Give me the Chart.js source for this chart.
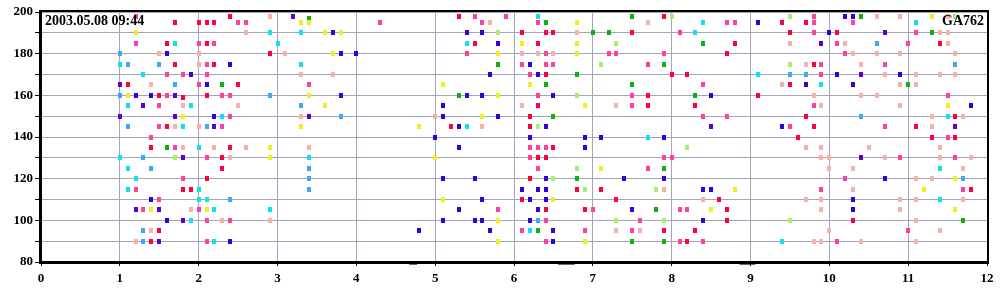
<!DOCTYPE html>
<html lang="en">
<head>
  <meta charset="UTF-8">
  <title>GA762 scatter</title>
  <script src="https://cdn.jsdelivr.net/npm/chart.js"></script>
  <style>
    html, body { margin: 0; padding: 0; background: #fff; }
  </style>
</head>
<body>
  <canvas id="myChart" width="1000" height="300"></canvas>

  <script>
    // points per colour group, [x, y]
    const redPts = [
      [1.7,195],[2.0,195],[2.1,195],[2.2,195],[2.4,198],[1.6,185],[2.1,185],[1.7,175],[2.2,175],[1.1,165],[1.5,160],[1.8,159],[2.1,160],[1.6,145],
      [1.4,135],[2.4,135],[2.3,130],[2.3,125],[2.1,120],[1.8,115],[1.9,115],[1.5,95],[1.4,90],
      [2.9,180],[2.5,165],
      [5.3,198],[6.1,190],[6.4,190],[6.5,190],[5.5,185],[6.3,185],[6.4,170],[6.3,155],[6.2,150],[5.2,145],[6.2,145],
      [7.9,198],[7.5,190],[9.5,190],[9.4,195],[8.8,185],[8.7,180],[8.0,170],[8.2,170],[9.5,165],[7.7,160],[9.1,160],[7.7,155],[8.3,155],
      [9.7,195],[10.1,190],[11.4,185],[9.8,175],[9.7,150],[11.6,150],[9.8,145],[11.1,145],
      [6.5,135],[6.3,130],[6.4,130],[6.2,120],[6.8,115],[7.1,115],[6.1,110],[7.3,110],[6.4,105],[6.9,105],
      [8.6,110],[8.7,105],[8.7,100],[7.9,95],[8.3,95],[8.2,90],
      [9.6,140],[10.3,100],[11.3,140],[11.6,140],[11.8,115]
    ];
    const pinkPts = [
      [1.2,198],[1.2,185],[2.0,185],[2.2,185],[2.1,175],[1.6,170],[1.8,170],[2.1,170],[2.0,165],[1.6,160],[2.3,160],[2.4,160],[1.5,155],[2.4,150],[1.5,145],[2.3,145],
      [1.4,140],[1.7,135],[2.1,130],[1.8,120],[1.2,115],[1.5,110],[1.3,105],[2.0,105],[2.1,100],[2.4,100],[2.1,90],
      [2.5,195],[2.6,195],[4.3,195],[3.4,165],
      [5.5,198],[5.6,195],[5.9,198],[6.3,195],[5.4,180],[6.4,180],[7.2,180],[6.1,175],[6.4,175],[6.5,175],[6.2,170],[6.3,160],
      [8.7,195],[8.8,195],[8.1,190],[7.3,180],[7.9,180],[7.7,175],[8.4,165],[7.5,160],[7.5,155],[8.4,150],[8.7,150],[9.5,145],
      [9.8,198],[9.8,195],[10.3,195],[9.8,190],[11.1,190],[10.1,185],[11.0,185],[10.2,180],[9.9,175],[10.7,175],[9.9,170],[11.5,160],[9.8,155],[10.7,145],
      [6.2,135],[6.3,135],[6.4,135],[6.2,130],[7.9,130],[8.0,130],[6.3,125],[7.7,125],[6.4,100],[7.6,100],[7.0,105],[8.1,105],[8.2,105],
      [5.8,105],[6.1,95],[6.9,95],[7.5,95],[6.4,90],[8.1,90],[8.4,90],
      [11.5,140],[10.9,130],[11.6,130],[10.2,120],[9.9,115],[11.7,115],[10.1,90],[11.0,95]
    ];
    const lightPinkPts = [
      [1.5,180],[2.0,180],[2.0,175],[1.4,165],[1.8,155],[1.7,145],[2.0,145],
      [1.8,135],[2.2,135],[2.4,130],[1.9,105],[2.3,100],[1.4,95],[1.2,90],
      [2.9,198],[2.6,190],[3.1,180],[3.3,170],[3.7,170],[2.5,155],[3.3,150],
      [5.7,195],[6.8,190],[6.1,180],[6.3,180],[6.5,180],[6.1,155],[5.0,150],[5.6,145],
      [7.7,195],[9.5,185],[9.4,165],[7.3,155],
      [10.6,198],[10.9,198],[11.5,198],[11.4,190],[11.5,190],[10.2,185],[11.5,185],[10.3,180],[10.6,180],[10.9,180],[11.6,180],
      [9.7,175],[10.4,175],[10.7,170],[11.1,170],[11.4,170],[11.6,170],[10.9,165],[11.1,165],[9.8,160],[10.4,160],[10.6,160],
      [9.9,155],[10.9,155],[11.3,150],[11.7,150],[11.3,145],
      [7.9,115],[8.4,110],[7.3,95],[7.6,95],
      [2.6,135],[3.4,135],[2.9,100],[9.7,135],[9.9,135],[10.5,135],[11.4,135],[9.9,130],[10.0,130],[10.7,130],[11.4,130],[11.8,130],
      [10.0,125],[10.3,125],[11.7,125],[11.1,120],[11.3,120],[10.3,115],
      [9.7,110],[9.9,110],[10.9,110],[11.1,110],[11.7,110],[9.9,105],[10.9,105],[11.1,100],[10.0,95],[11.4,95],
      [9.8,90],[9.9,90],[10.4,90],[11.1,90]
    ];
    const bluePts = [
      [1.6,180],[2.4,175],[1.9,170],[2.1,165],[1.2,160],[1.4,160],[2.2,150],
      [1.4,110],[1.6,100],[2.4,90],
      [3.7,190],[3.8,180],[4.0,180],[3.8,160],
      [5.4,190],[5.6,190],[5.8,185],[6.2,175],[5.7,170],[6.3,170],[5.4,160],[5.6,160],[6.5,160],[5.1,155],[5.1,150],[5.8,150],[5.3,145],[6.4,145],
      [9.1,195],[8.5,160],[9.4,145],
      [10.2,198],[10.3,198],[10.0,190],[10.1,170],[10.9,170],[9.7,165],[10.3,165],[11.8,155],
      [6.2,140],[6.9,140],[7.1,140],[7.9,140],[6.9,135],[6.4,120],[7.4,120],[7.9,120],[6.1,115],[6.3,115],[6.4,115],[6.2,110],[6.4,110],
      [5.6,110],[5.3,105],[6.3,105],[7.5,105],[5.1,100],[5.5,100],[5.6,100],[6.2,100],[8.4,100],[4.8,95],[5.7,95],[6.5,95],[6.5,90],
      [5.0,140],[5.3,135],[5.1,120],[5.5,120],[10.3,110],[10.3,105],[10.7,120],
      [8.4,115],[8.5,115]
    ];
    const purplePts = [
      [1.0,165],[1.7,160],[1.3,155],[1.0,150],[1.7,150],[2.2,145],
      [1.8,130],[1.2,105],[1.5,105],[1.8,100],[1.5,90],
      [3.2,198],[3.4,150],[8.5,145],
      [10.7,190],[9.9,185],[10.4,170],[11.6,145],
      [10.4,130]
    ];
    const cyanPts = [
      [1.7,185],[1.0,175],[1.3,170],[1.1,155],[1.9,155],[2.3,150],[1.8,145],
      [2.0,135],[1.0,130],[1.1,125],[1.2,120],[1.1,115],[2.0,115],[2.0,110],[2.1,110],[2.2,105],[1.9,100],[2.2,90],
      [2.9,190],[3.3,190],[3.0,185],[3.3,175],
      [6.3,198],[5.4,185],[5.4,145],
      [8.4,195],[8.3,190],[9.1,170],
      [11.1,195],[9.9,165],[11.5,150],
      [7.7,140],[6.2,95],[9.4,90],
      [3.4,130],[2.9,105],[11.4,125],[11.4,110]
    ];
    const lightBluePts = [
      [1.0,180],[1.1,175],[1.5,175],[1.7,165],[1.0,160],[1.1,145],[2.1,145],
      [1.3,130],[1.4,125],[2.4,110],[1.3,95],[1.3,90],
      [2.9,160],[3.3,155],[3.8,150],
      [9.5,170],[10.6,185],[11.6,175],[9.7,170],[10.4,150],
      [6.3,100],
      [3.4,125],[3.4,120],[3.4,115],[11.7,120]
    ];
    const yellowPts = [
      [1.2,190],[1.1,160],[1.8,150],[1.4,105],[2.1,105],
      [3.3,195],[3.4,195],[3.6,190],[3.8,190],[3.7,180],[3.4,160],[3.6,155],[3.3,145],[4.8,145],
      [6.8,195],[6.1,185],[6.8,185],[5.8,180],[6.8,180],[5.1,165],[6.2,165],[5.8,160],[6.9,155],[5.6,150],
      [11.3,198],[11.5,155],
      [7.1,125],[6.5,110],[5.1,110],[5.8,100],[6.9,90],[5.8,90],[8.5,105],
      [2.9,135],[2.9,130],[5.0,130],[11.6,120],[11.2,115],[11.6,105],
      [8.8,115]
    ];
    const lightGreenPts = [
      [1.7,130],[5.8,190],[7.1,175],[6.8,160],[6.3,145],
      [8.0,198],[9.5,198],[7.3,185],[9.5,175],[11.6,198],
      [8.2,135],[6.8,125],[6.5,120],[6.9,115],[7.8,115],
      [7.3,100],[7.9,100],[9.5,100]
    ];
    const greenPts = [
      [2.3,165],[1.6,135],[3.4,197],
      [6.4,195],[7.0,190],[7.2,190],[5.8,175],[6.8,170],[6.4,165],[5.3,160],[6.5,150],
      [7.5,198],[8.4,185],[7.9,175],[7.5,165],[8.3,160],
      [10.4,198],[11.3,190],[11.0,165],
      [7.9,125],[6.8,120],[7.8,105],[6.3,95],[7.5,90],[7.9,90],
      [11.7,100]
    ];
    // short dashes under the x axis
    const dashX = [4.67, 4.77, null, 6.56, 6.77, null, 8.86, 9.06];
    const dashY = 79;

    const xTicksMin = 0, xTicksMax = 12;
    const yTicksMin = 80, yTicksMax = 200;

    const groups = [
      [redPts, '#ff0040'],
      [pinkPts, '#ff40a0'],
      [lightPinkPts, '#f8b0a8'],
      [bluePts, '#3000e0'],
      [purplePts, '#6000d0'],
      [cyanPts, '#10e0f0'],
      [lightBluePts, '#40a8f8'],
      [yellowPts, '#f0f020'],
      [lightGreenPts, '#a8f070'],
      [greenPts, '#10b010']
    ];

    function markImg(color) {
      const c = document.createElement('canvas');
      c.width = 4; c.height = 5;
      const g = c.getContext('2d');
      g.fillStyle = color;
      g.fillRect(0, 0, 4, 5);
      return c;
    }

    const datasets = groups.map(([pts, col]) => ({
      type: 'scatter',
      data: pts.map(p => ({ x: p[0], y: p[1] })),
      pointStyle: markImg(col),
      pointRadius: 3,
      backgroundColor: col,
      borderColor: col
    }));

    datasets.push({
      type: 'line',
      data: dashX.map(x => x === null ? { x: null, y: null } : { x: x, y: dashY }),
      borderColor: '#000',
      borderWidth: 1,
      pointRadius: 0,
      spanGaps: false,
      clip: false
    });

    const frameAndText = {
      id: 'frameAndText',
      afterDraw(chart) {
        const { ctx, chartArea: a } = chart;
        ctx.save();
        ctx.strokeStyle = '#000';
        ctx.lineWidth = 2;
        ctx.strokeRect(a.left - 1, a.top - 1, a.right - a.left + 2, a.bottom - a.top + 2);
        ctx.fillStyle = '#000';
        ctx.font = 'bold 14px "Liberation Serif", "Times New Roman", serif';
        ctx.textBaseline = 'alphabetic';
        ctx.textAlign = 'left';
        ctx.fillText('2003.05.08 09:44', 45, 25);
        ctx.textAlign = 'right';
        ctx.fillText('GA762', 984, 25);
        ctx.restore();
      }
    };

    const tickFont = { family: '"Liberation Serif", "Times New Roman", serif', size: 13, weight: 'bold' };

    new Chart(document.getElementById('myChart'), {
      type: 'scatter',
      data: { datasets },
      plugins: [frameAndText],
      options: {
        responsive: false,
        animation: false,
        devicePixelRatio: 1,
        layout: { padding: { top: 12, right: 13, left: 0, bottom: 0 } },
        plugins: { legend: { display: false }, tooltip: { enabled: false } },
        scales: {
          x: {
            type: 'linear',
            min: xTicksMin,
            max: xTicksMax,
            ticks: { stepSize: 1, color: '#000', font: tickFont, padding: 5, maxRotation: 0 },
            grid: { color: '#a3a6b8', tickColor: '#000', tickLength: 4 },
            border: { color: '#000', width: 2 },
            afterFit: s => { s.height = 38; }
          },
          y: {
            type: 'linear',
            min: yTicksMin,
            max: yTicksMax,
            ticks: {
              stepSize: 10, color: '#000', font: tickFont, padding: 2,
              callback: v => (v % 20 === 0 ? v : '')
            },
            grid: { color: '#a3a6b8', tickColor: '#000', tickLength: 6 },
            border: { color: '#000', width: 2 },
            afterFit: s => { s.width = 41; }
          }
        }
      }
    });
  </script>
</body>
</html>
